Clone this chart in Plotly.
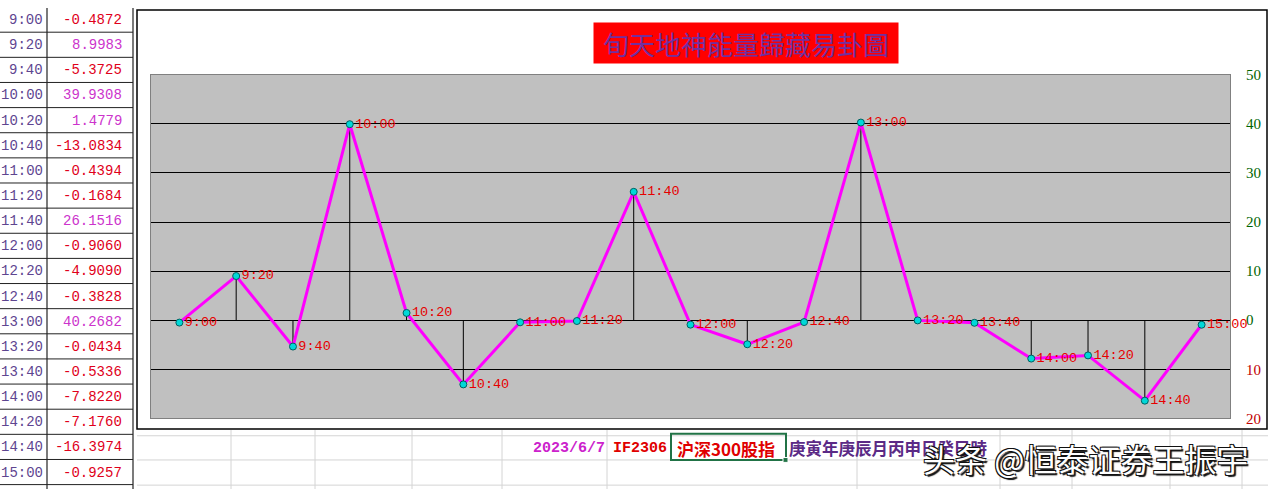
import plotly.graph_objects as go

# ---------------- data ----------------
times = ["9:00", "9:20", "9:40", "10:00", "10:20", "10:40", "11:00", "11:20", "11:40", "12:00",
         "12:20", "12:40", "13:00", "13:20", "13:40", "14:00", "14:20", "14:40", "15:00"]
values = [-0.4872, 8.9983, -5.3725, 39.9308, 1.4779, -13.0834, -0.4394, -0.1684, 26.1516, -0.9060,
          -4.9090, -0.3828, 40.2682, -0.0434, -0.5336, -7.8220, -7.1760, -16.3974, -0.9257]
y_tickvals = [-20, -10, 0, 10, 20, 30, 40, 50]
y_ticklabels = ["20", "10", "0", "10", "20", "30", "40", "50"]
title_text = "旬天地神能量歸藏易卦圖"
footer_date = "2023/6/7"
footer_code = "IF2306"
footer_name = "沪深300股指"
footer_ganzhi = "庚寅年庚辰月丙申日癸巳時"
watermark = "头条 @恒泰证券王振宇"

W, H = 1268, 497
def px(x):
    return x / W
def py(y):
    return 1 - y / H

fig = go.Figure()

idx = list(range(len(times)))

# drop lines from each point to zero
dx, dy = [], []
for i, v in zip(idx, values):
    dx += [i, i, None]
    dy += [0, v, None]
fig.add_trace(go.Scatter(x=dx, y=dy, mode="lines", line=dict(color="black", width=1),
                         hoverinfo="skip", showlegend=False))

# main line with markers and category labels
fig.add_trace(go.Scatter(
    x=idx, y=values, mode="lines+markers+text", text=times, textposition="middle right",
    textfont=dict(family="Liberation Mono", size=13.5, color="#E60000"),
    line=dict(color="#FF00FF", width=3),
    marker=dict(size=7, color="#00D8D8", line=dict(color="#006060", width=1)),
    cliponaxis=False, showlegend=False))

tick_colors = ["#C00000" if v < 0 else "#006400" for v in y_tickvals]
ticktext = [f"<span style='color:{c}'>{t}</span>" for t, c in zip(y_ticklabels, tick_colors)]

fig.update_layout(
    width=W, height=H, margin=dict(l=0, r=0, t=0, b=0),
    paper_bgcolor="white", plot_bgcolor="#C0C0C0",
    xaxis=dict(domain=[px(151), px(1230)], range=[-0.5, len(times) - 0.5],
               showticklabels=False, showgrid=False, zeroline=False,
               showline=True, mirror=True, linecolor="#808080", linewidth=1, ticks=""),
    yaxis=dict(domain=[py(424), py(69)], range=[-20, 50], side="right",
               tickvals=y_tickvals, ticktext=ticktext, ticks="",
               tickfont=dict(family="Liberation Serif", size=15, color="#006400"),
               ticklabelstandoff=12,
               showgrid=True, gridcolor="black", gridwidth=1,
               zeroline=True, zerolinecolor="black", zerolinewidth=1,
               showline=True, mirror=True, linecolor="#808080", linewidth=1),
)

shapes = []
# spreadsheet gridlines below the chart
for yy in [442, 467, 493]:
    shapes.append(dict(type="line", xref="paper", yref="paper", x0=px(137), x1=1, y0=py(yy), y1=py(yy),
                       line=dict(color="#D4D4D4", width=1), layer="below"))
for xx in [231, 315, 412, 502, 607, 857, 1000, 1072, 1170, 1242]:
    shapes.append(dict(type="line", xref="paper", yref="paper", x0=px(xx), x1=px(xx), y0=py(436), y1=0,
                       line=dict(color="#D4D4D4", width=1), layer="below"))
# chart outer border
shapes.append(dict(type="rect", xref="paper", yref="paper", x0=px(137), x1=px(1267), y0=py(435), y1=py(2),
                   line=dict(color="black", width=1.5), layer="below"))
# left table lines
row_h = 25.97
for k in range(len(times)):
    yy = 25.0 + row_h * k
    shapes.append(dict(type="line", xref="paper", yref="paper", x0=0, x1=px(133), y0=py(yy), y1=py(yy),
                       line=dict(color="#222222", width=1)))
for xx in [47, 133]:
    shapes.append(dict(type="line", xref="paper", yref="paper", x0=px(xx), x1=px(xx), y0=0, y1=1,
                       line=dict(color="#222222", width=1.2)))
# selected cell box
shapes.append(dict(type="rect", xref="paper", yref="paper", x0=px(671), x1=px(786), y0=py(467), y1=py(440),
                   line=dict(color="#217346", width=2)))
shapes.append(dict(type="rect", xref="paper", yref="paper", x0=px(783), x1=px(788), y0=py(469.5), y1=py(464.5),
                   line=dict(color="white", width=1), fillcolor="#217346"))

annotations = []
# table text
for k, (t, v) in enumerate(zip(times, values)):
    yc = 12.5 + row_h * k
    annotations.append(dict(text=t, xref="paper", yref="paper", x=px(45), y=py(yc), xanchor="right",
                            yanchor="middle", showarrow=False,
                            font=dict(family="Liberation Mono", size=14, color="#5E4590")))
    annotations.append(dict(text=f"{v:.4f}", xref="paper", yref="paper", x=px(124), y=py(yc), xanchor="right",
                            yanchor="middle", showarrow=False,
                            font=dict(family="Liberation Mono", size=14,
                                      color="#E0001A" if v < 0 else "#CC33CC")))
# title
annotations.append(dict(text=title_text, xref="paper", yref="paper", x=px(746), y=py(36),
                        xanchor="center", yanchor="middle", showarrow=False, bgcolor="#FF0000",
                        width=302, height=38,
                        font=dict(family="Noto Sans CJK TC", size=26, color="#7030A0")))
# footer
annotations.append(dict(text=f"<b>{footer_date}</b>", xref="paper", yref="paper", x=px(531), y=py(455),
                        xanchor="left", yanchor="middle", showarrow=False,
                        font=dict(family="Liberation Mono", size=15, color="#CC22CC")))
annotations.append(dict(text=f"<b>{footer_code}</b>", xref="paper", yref="paper", x=px(611), y=py(455),
                        xanchor="left", yanchor="middle", showarrow=False,
                        font=dict(family="Liberation Mono", size=15, color="#E00000")))
annotations.append(dict(text=f"<b>{footer_name}</b>", xref="paper", yref="paper", x=px(675), y=py(455),
                        xanchor="left", yanchor="middle", showarrow=False,
                        font=dict(family="Noto Sans CJK SC", size=17, color="#E00000")))
annotations.append(dict(text=f"<b>{footer_ganzhi}</b>", xref="paper", yref="paper", x=px(787), y=py(455),
                        xanchor="left", yanchor="middle", showarrow=False,
                        font=dict(family="Noto Sans CJK SC", size=16.5, color="#5B2A86")))
annotations.append(dict(text=watermark, xref="paper", yref="paper", x=px(921), y=py(465),
                        xanchor="left", yanchor="middle", showarrow=False,
                        font=dict(family="Noto Sans CJK SC", size=32, color="white",
                                  shadow="-1px -1px 0 #111, 1px -1px 0 #111, -1px 1px 0 #111, 2px 2px 1px #111")))

fig.update_layout(shapes=shapes, annotations=annotations)

post = "document.documentElement.style.margin='0';document.body.style.margin='0';document.body.style.overflow='hidden';"
fig.write_html("out.html", config={"displayModeBar": False}, post_script=post)
